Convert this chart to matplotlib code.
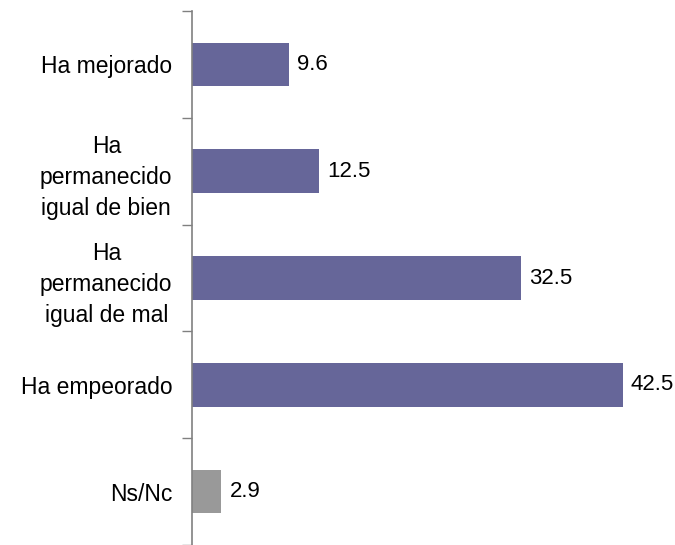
import matplotlib.pyplot as plt
import numpy as np

plt.rcParams['font.family'] = ['Liberation Sans', 'DejaVu Sans']

categories = ['Ha mejorado', 'Ha\npermanecido\nigual de bien', 'Ha\npermanecido\nigual de mal',
              'Ha empeorado', 'Ns/Nc']
values = [9.6, 12.5, 32.5, 42.5, 2.9]
colors = ['#666699', '#666699', '#666699', '#666699', '#999999']

fig = plt.figure(figsize=(6.75, 5.45), dpi=100)
ax = fig.add_axes([192/675, 0, (650-192)/675, 534/545])

pos = np.arange(len(values))
ax.barh(pos, values, height=0.41, color=colors)
ax.set_ylim(len(values) - 0.5, -0.5)
ax.set_xlim(0, 45.2)

for p, v in zip(pos, values):
    ax.text(v + 0.8, p, f'{v:.1f}', va='center', ha='left', fontsize=16)

# boundaries as major ticks, labels on minor ticks
ax.set_yticks(np.arange(-0.5, len(values) + 0.5, 1))
ax.set_yticklabels([])
ax.set_yticks(pos, minor=True)
ax.set_yticklabels(categories, minor=True, fontsize=16.5, multialignment='center',
                   linespacing=1.45)
ax.tick_params(axis='y', which='major', length=7, width=1, color='#808080', direction='out')
ax.tick_params(axis='y', which='minor', length=0, pad=14)

ax.set_xticks([])
for s in ['top', 'right', 'bottom']:
    ax.spines[s].set_visible(False)
ax.spines['left'].set_color('#808080')
ax.spines['left'].set_linewidth(1.2)

fig.savefig('out.png', dpi=100)
